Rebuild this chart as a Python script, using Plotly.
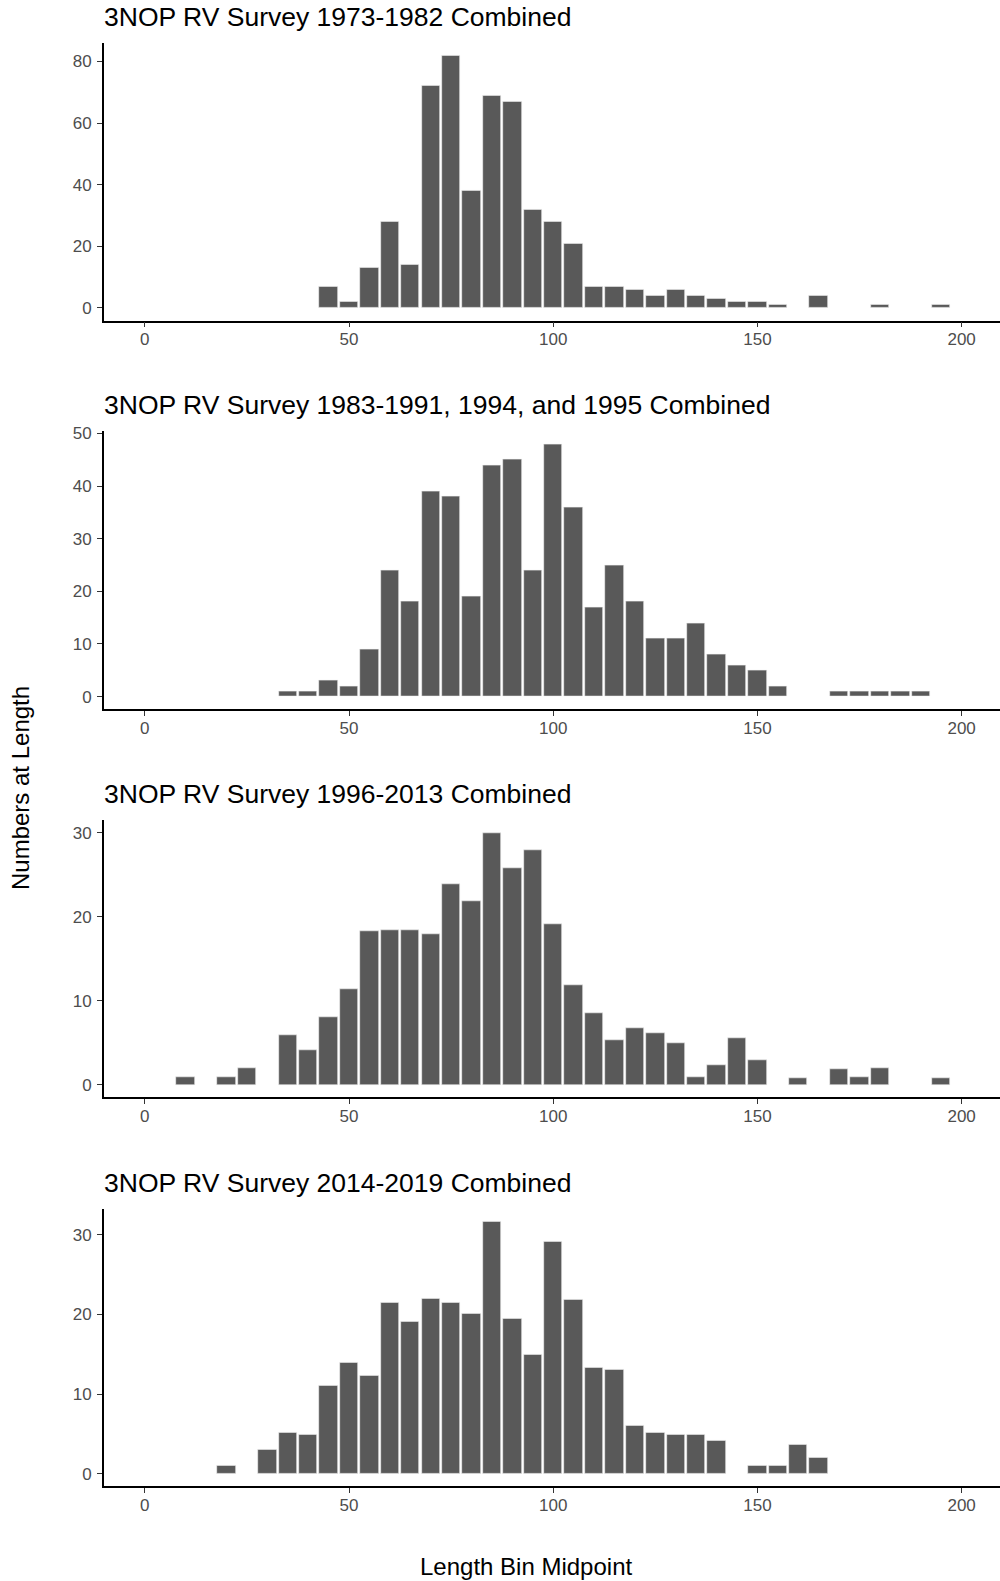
import plotly.graph_objects as go

# Length-frequency data: bin midpoints (cm) and numbers at length for each survey period
titles = [
    "3NOP RV Survey 1973-1982 Combined",
    "3NOP RV Survey 1983-1991, 1994, and 1995 Combined",
    "3NOP RV Survey 1996-2013 Combined",
    "3NOP RV Survey 2014-2019 Combined",
]

mid_1973 = [45, 50, 55, 60, 65, 70, 75, 80, 85, 90, 95, 100, 105, 110, 115, 120,
            125, 130, 135, 140, 145, 150, 155, 165, 180, 195]
num_1973 = [7, 2, 13, 28, 14, 72, 82, 38, 69, 67, 32, 28, 21, 7, 7, 6,
            4, 6, 4, 3, 2, 2, 1, 4, 1, 1]

mid_1983 = [35, 40, 45, 50, 55, 60, 65, 70, 75, 80, 85, 90, 95, 100, 105, 110,
            115, 120, 125, 130, 135, 140, 145, 150, 155, 170, 175, 180, 185, 190]
num_1983 = [1, 1, 3, 2, 9, 24, 18, 39, 38, 19, 44, 45, 24, 48, 36, 17,
            25, 18, 11, 11, 14, 8, 6, 5, 2, 1, 1, 1, 1, 1]

mid_1996 = [10, 20, 25, 35, 40, 45, 50, 55, 60, 65, 70, 75, 80, 85, 90, 95,
            100, 105, 110, 115, 120, 125, 130, 135, 140, 145, 150, 160, 170,
            175, 180, 195]
num_1996 = [0.9, 0.9, 2.0, 5.9, 4.1, 8.0, 11.4, 18.3, 18.4, 18.4, 17.9, 23.9,
            21.9, 30.0, 25.8, 27.9, 19.1, 11.8, 8.5, 5.3, 6.7, 6.2, 5.0, 0.9,
            2.3, 5.6, 2.9, 0.8, 1.9, 0.9, 2.0, 0.8]

mid_2014 = [20, 30, 35, 40, 45, 50, 55, 60, 65, 70, 75, 80, 85, 90, 95, 100,
            105, 110, 115, 120, 125, 130, 135, 140, 150, 155, 160, 165]
num_2014 = [1.0, 3.0, 5.2, 4.9, 11.0, 14.0, 12.3, 21.5, 19.1, 22.0, 21.5, 20.1,
            31.7, 19.5, 15.0, 29.1, 21.9, 13.3, 13.1, 6.1, 5.2, 4.9, 4.9, 4.1,
            1.0, 1.0, 3.7, 2.0]

y_ticks = [[0, 20, 40, 60, 80], [0, 10, 20, 30, 40, 50], [0, 10, 20, 30], [0, 10, 20, 30]]
x_ticks = [0, 50, 100, 150, 200]

panels = [(mid_1973, num_1973), (mid_1983, num_1983),
          (mid_1996, num_1996), (mid_2014, num_2014)]

W, H = 1000, 1581
FONT = "Liberation Sans, Arial, sans-serif"
BAR = "#595959"
TICK_COL = "#4D4D4D"

# Panel placement in pixels (top, bottom) of each plotting area
panel_px = [(42.7, 320.5), (431.4, 709.2), (820.1, 1097.3), (1208.7, 1486.4)]
x_left_px = 104

fig = go.Figure()
layout = dict(
    width=W, height=H,
    margin=dict(l=0, r=0, t=0, b=0),
    paper_bgcolor="white", plot_bgcolor="white",
    showlegend=False,
    bargap=0,
    font=dict(family=FONT, color="black"),
)

annotations = []
for i, ((mids, nums), (top, bot)) in enumerate(zip(panels, panel_px)):
    k = "" if i == 0 else str(i + 1)
    fig.add_trace(go.Bar(
        x=mids, y=nums, width=4.5,
        marker=dict(color=BAR, line=dict(color="#f2f2f2", width=0.6)),
        xaxis="x" + k, yaxis="y" + k,
        hoverinfo="x+y",
    ))
    ymax = max(nums)
    layout["xaxis" + k] = dict(
        domain=[x_left_px / W, 1.0], anchor="y" + k,
        range=[-10, 209.4],
        tickvals=x_ticks, ticktext=[str(v) for v in x_ticks],
        ticks="outside", ticklen=5, tickwidth=1.2, tickcolor="#333333",
        tickfont=dict(family=FONT, size=17, color=TICK_COL),
        showline=True, linecolor="black", linewidth=1.8,
        showgrid=False, zeroline=False, automargin=False,
        ticklabelstandoff=-3,
    )
    layout["yaxis" + k] = dict(
        domain=[1 - bot / H, 1 - top / H], anchor="x" + k,
        range=[-0.05 * ymax, 1.05 * ymax],
        tickvals=y_ticks[i], ticktext=[str(v) for v in y_ticks[i]],
        ticks="outside", ticklen=5, tickwidth=1.2, tickcolor="#333333",
        tickfont=dict(family=FONT, size=17, color=TICK_COL),
        showline=True, linecolor="black", linewidth=1.8,
        showgrid=False, zeroline=False, automargin=False,
        ticklabelstandoff=2,
    )
    annotations.append(dict(
        text=titles[i], xref="paper", yref="paper",
        x=(x_left_px - 2) / W, y=1 - (top - 26) / H,
        xanchor="left", yanchor="middle", showarrow=False,
        font=dict(family=FONT, size=26.5, color="black"),
    ))

annotations.append(dict(
    text="Length Bin Midpoint", xref="paper", yref="paper",
    x=526 / W, y=1 - 1566 / H, xanchor="center", yanchor="middle",
    showarrow=False, font=dict(family=FONT, size=24, color="black"),
))
annotations.append(dict(
    text="Numbers at Length", xref="paper", yref="paper",
    x=20 / W, y=1 - 788 / H, xanchor="center", yanchor="middle",
    textangle=-90, showarrow=False,
    font=dict(family=FONT, size=24, color="black"),
))
layout["annotations"] = annotations

fig.update_layout(**layout)
fig.write_html("out.html")
